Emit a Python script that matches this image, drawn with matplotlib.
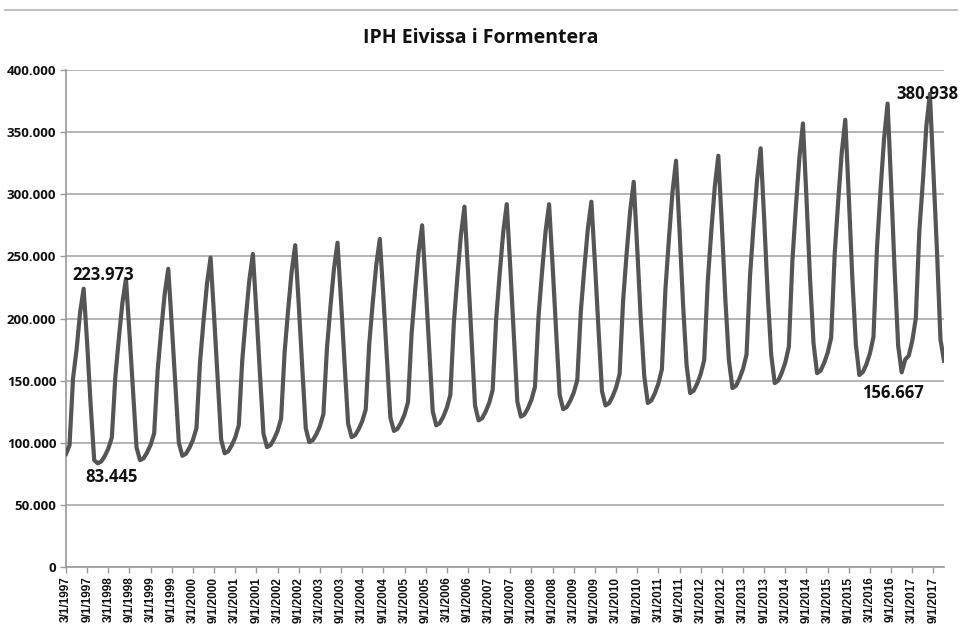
import matplotlib.pyplot as plt
import numpy as np
from matplotlib.lines import Line2D
from matplotlib.ticker import FuncFormatter, MultipleLocator

# IPH (thousands of people), monthly, March 1997 - December 2017
iph_1997 = [91.0, 98.0, 152.0, 175.0, 205.0, 223.973, 180.0, 130.0, 86.0, 83.445]
iph_1998 = [84.9, 89.3, 95.3, 104.2, 153.2, 184.4, 212.7, 232.0, 188.2, 141.5, 96.2, 86.0]
iph_1999 = [87.5, 92.2, 98.3, 107.6, 158.4, 190.7, 220.0, 240.0, 194.9, 146.7, 100.0, 89.5]
iph_2000 = [91.1, 95.9, 102.3, 111.8, 164.5, 198.0, 228.3, 249.0, 201.8, 151.4, 102.5, 91.5]
iph_2001 = [93.1, 97.9, 104.3, 114.0, 166.9, 200.6, 231.1, 252.0, 205.4, 155.6, 107.4, 96.5]
iph_2002 = [98.1, 103.0, 109.5, 119.3, 172.9, 207.0, 237.9, 259.0, 211.5, 160.7, 111.6, 100.5]
iph_2003 = [102.1, 106.9, 113.3, 123.0, 175.9, 209.6, 240.1, 261.0, 214.1, 164.0, 115.5, 104.5]
iph_2004 = [106.1, 110.9, 117.3, 126.8, 179.5, 213.0, 243.3, 264.0, 217.7, 168.2, 120.3, 109.5]
iph_2005 = [111.2, 116.1, 122.7, 132.7, 187.3, 222.1, 253.5, 275.0, 226.7, 175.2, 125.3, 114.0]
iph_2006 = [115.8, 121.0, 128.1, 138.6, 196.7, 233.7, 267.1, 290.0, 238.4, 183.4, 130.0, 118.0]
iph_2007 = [119.7, 125.0, 131.9, 142.4, 199.8, 236.3, 269.4, 292.0, 240.7, 186.0, 133.0, 121.0]
iph_2008 = [122.7, 127.8, 134.7, 144.9, 201.4, 237.3, 269.8, 292.0, 242.5, 189.7, 138.6, 127.0]
iph_2009 = [128.7, 133.7, 140.4, 150.4, 205.5, 240.6, 272.3, 294.0, 244.8, 192.3, 141.5, 130.0]
iph_2010 = [131.8, 137.2, 144.4, 155.2, 214.6, 252.4, 286.6, 310.0, 256.6, 199.6, 153.4, 132.0]
iph_2011 = [134.0, 139.8, 147.6, 159.3, 223.7, 264.6, 301.7, 327.0, 270.9, 211.1, 162.4, 140.0]
iph_2012 = [141.9, 147.6, 155.3, 166.7, 229.8, 269.9, 306.2, 331.0, 274.9, 215.1, 166.4, 144.0]
iph_2013 = [145.9, 151.7, 159.4, 171.0, 234.7, 275.2, 311.9, 337.0, 280.3, 219.8, 170.7, 148.0]
iph_2014 = [150.1, 156.4, 164.7, 177.3, 246.2, 290.1, 329.8, 357.0, 296.7, 232.4, 180.1, 156.0]
iph_2015 = [158.0, 164.2, 172.3, 184.6, 251.9, 294.7, 333.5, 360.0, 298.4, 232.6, 179.2, 154.5]
iph_2016 = [157.0, 163.2, 172.0, 185.1, 257.2, 303.1, 344.6, 373.0, 308.1, 238.9, 178.0, 156.667]
iph_2017 = [167.0, 170.0, 182.0, 200.0, 270.0, 310.0, 355.0, 380.938, 318.0, 255.0, 183.0, 166.0]

years = list(range(1997, 2018))
tick_labels = [f"{m}/1/{y}" for y in years for m in (3, 9)]

series = np.array(
    iph_1997 + iph_1998 + iph_1999 + iph_2000 + iph_2001 + iph_2002 + iph_2003
    + iph_2004 + iph_2005 + iph_2006 + iph_2007 + iph_2008 + iph_2009 + iph_2010
    + iph_2011 + iph_2012 + iph_2013 + iph_2014 + iph_2015 + iph_2016 + iph_2017
) * 1000
x = np.arange(len(series))

fig = plt.figure(figsize=(9.61, 6.29), dpi=100)
ax = fig.add_axes([66 / 961, 1 - 567 / 629, (944 - 66) / 961, (567 - 70) / 629])

# page separator line above the chart
fig.add_artist(Line2D([5 / 961, 957 / 961], [1 - 10 / 629] * 2, color='#b4b4b4', lw=1.2))

fig.text(481 / 961, 1 - 38 / 629, 'IPH Eivissa i Formentera', ha='center', va='center',
         fontsize=14, fontweight='bold', family='Open Sans', color='#111111')

ax.plot(x, series, color='#555555', lw=3.0, solid_joinstyle='round', zorder=3)

ax.set_xlim(0, len(series) - 1)
ax.set_ylim(0, 400000)
ax.yaxis.set_major_locator(MultipleLocator(50000))
ax.yaxis.set_major_formatter(FuncFormatter(lambda v, p: f"{v:,.0f}".replace(",", ".")))
ax.grid(axis='y', color='#b0b0b0', lw=1.3, zorder=0)

ax.set_xticks(x[::6])
ax.set_xticklabels(tick_labels[:len(x[::6])], rotation=90, fontsize=8.5,
                   fontweight='bold', family='Liberation Sans')
for lab in ax.get_yticklabels():
    lab.set_fontfamily('Open Sans')
    lab.set_fontweight('bold')
    lab.set_fontsize(9.5)

for side in ('top', 'right'):
    ax.spines[side].set_visible(False)
for side in ('left', 'bottom'):
    ax.spines[side].set_color('#9a9a9a')
    ax.spines[side].set_linewidth(1.2)
ax.tick_params(axis='both', colors='#9a9a9a', labelcolor='#111111', length=4, width=1, pad=3)

label_font = dict(fontsize=12, fontweight='bold', family='Open Sans', color='#111111',
                  ha='center', va='center', textcoords='offset points', zorder=5)

first_peak = int(np.argmax(series[:10]))
first_low = int(np.argmin(series[:12]))
last_peak = int(np.argmax(series))
last_low = int(len(series) - 16 + np.argmin(series[-16:-8]))

ax.annotate(f"{series[first_peak] / 1000:.3f}", (first_peak, series[first_peak]), xytext=(14, 10), **label_font)
ax.annotate(f"{series[first_low] / 1000:.3f}", (first_low, series[first_low]), xytext=(10, -10), **label_font)
ax.annotate(f"{series[last_peak] / 1000:.3f}", (last_peak, series[last_peak]), xytext=(-2, 0), **label_font)
ax.annotate(f"{series[last_low] / 1000:.3f}", (last_low, series[last_low]), xytext=(-6, -15), **label_font)

fig.savefig('out.png', dpi=100)
